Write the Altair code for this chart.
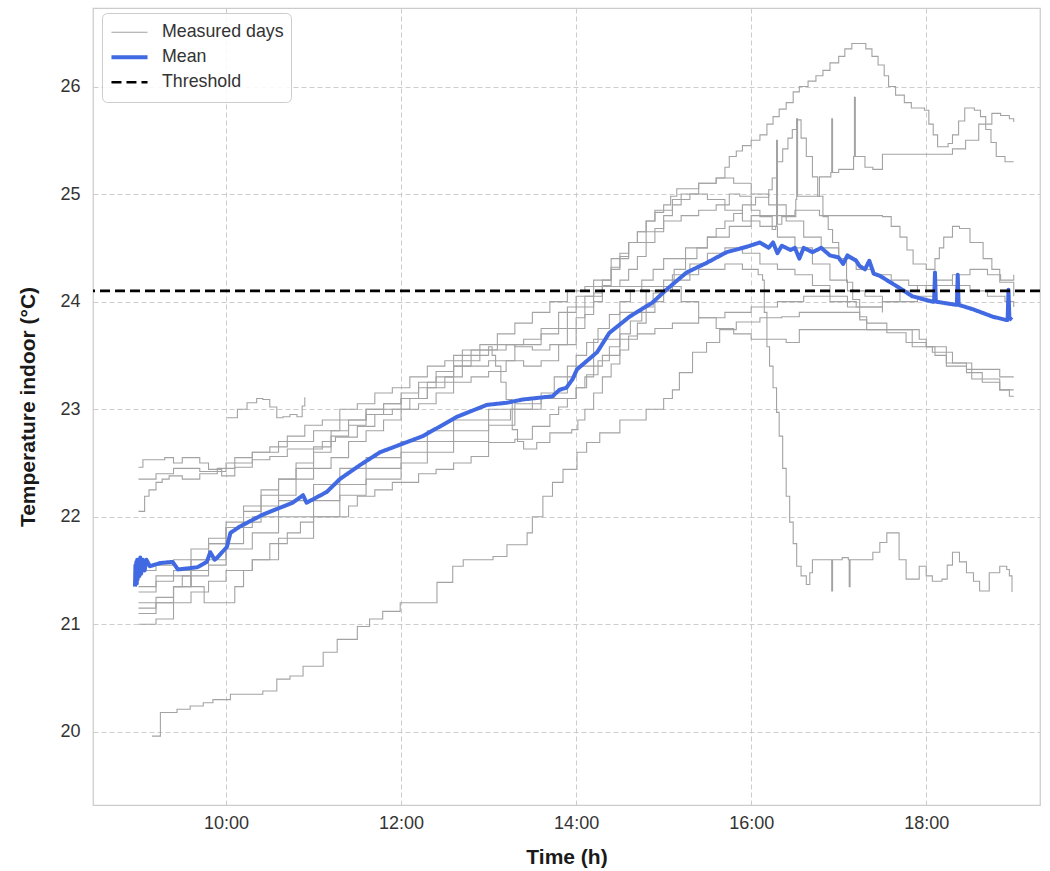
import altair as alt
import pandas as pd

# ---------------- data (hour of day, indoor temperature in °C) ----------------
SERIES = ["Measured days", "Mean", "Threshold"]
SERIES_COLORS = ["#a3a3a3", "#4169e1", "#000000"]
SERIES_WIDTHS = [1.1, 4.0, 2.6]
THRESHOLD = 24.1
X_TICKS = [10, 12, 14, 16, 18]
Y_TICKS = [20, 21, 22, 23, 24, 25, 26]

day01 = [(9.0,21.1),(9.2,21.2),(9.4,21.35),(9.6,21.5),(9.8,21.6),(10.0,21.75),(10.2,21.95),(10.4,22.1),
         (10.6,22.2),(10.8,22.35),(11.0,22.45),(11.2,22.55),(11.4,22.7),(11.6,22.8),(11.8,22.9),(12.0,23.0),
         (12.2,23.05),(12.4,23.15),(12.6,23.25),(12.8,23.3),(13.0,23.35),(13.2,23.45),(13.4,23.4),(13.6,23.45),
         (13.8,23.6),(14.0,23.75),(14.1,23.88),(14.2,24.0),(14.3,24.15),(14.4,24.3),(14.5,24.42),(14.6,24.55),
         (14.7,24.65),(14.8,24.75),(14.9,24.83),(15.0,24.9),(15.08,24.98),(15.15,25.05),(15.4,25.1),(15.6,25.15),
         (15.7,25.25),(15.75,25.35),(15.83,25.4),(15.9,25.45),(16.0,25.5),(16.1,25.55),(16.18,25.65),(16.25,25.72),
         (16.32,25.79),(16.4,25.85),(16.48,25.95),(16.55,26.0),(16.65,26.05),(16.74,26.1),(16.82,26.15),
         (16.9,26.22),(17.0,26.28),(17.07,26.35),(17.15,26.4),(17.31,26.35),(17.38,26.28),(17.45,26.2),
         (17.52,26.1),(17.57,26.0),(17.65,25.92),(17.75,25.85),(17.83,25.8),(17.98,25.78),(18.03,25.65),
         (18.08,25.55),(18.13,25.44),(18.25,25.47),(18.3,25.55),(18.37,25.68),(18.44,25.8),(18.55,25.78),
         (18.62,25.72),(18.68,25.6),(18.74,25.48),(18.8,25.35),(18.9,25.3),(19.0,25.3)]

day02 = [(9.0,21.35),(9.2,21.45),(9.4,21.5),(9.6,21.6),(9.8,21.75),(10.0,21.95),(10.2,22.1),(10.4,22.25),
         (10.6,22.35),(10.8,22.5),(11.0,22.65),(11.2,22.8),(11.4,22.9),(11.6,23.0),(11.8,23.05),(12.0,23.1),
         (12.2,23.2),(12.4,23.3),(12.6,23.4),(12.8,23.5),(13.0,23.55),(13.2,23.6),(13.4,23.65),(13.6,23.7),
         (13.8,23.9),(14.0,24.05),(14.2,24.2),(14.4,24.4),(14.6,24.55),(14.8,24.65),(15.0,24.75),(15.2,24.8),
         (15.4,24.85),(15.6,24.9),(15.75,25.0),(15.87,24.98),(16.0,24.85),(16.1,24.79),(16.24,24.67),(16.28,24.7),
         (16.29,25.5),(16.30,24.72),(16.35,24.79),(16.51,24.95),(16.52,25.7),(16.53,24.98),(16.78,25.16),
         (16.91,25.2),(16.92,25.7),(16.93,25.2),(17.0,25.23),(17.17,25.35),(17.18,25.9),(17.19,25.35),(17.3,25.25),
         (17.39,25.23),(17.5,25.37),(17.8,25.37),(18.15,25.37),(18.3,25.42),(18.45,25.5),(18.6,25.65),(18.75,25.75),
         (18.85,25.73),(18.95,25.7),(19.0,25.67)]

day03 = [(9.0,21.5),(9.2,21.55),(9.4,21.6),(9.6,21.7),(9.8,21.8),(10.0,21.9),(10.3,22.0),(10.6,22.15),
         (11.0,22.3),(11.3,22.45),(11.6,22.55),(12.0,22.7),(12.3,22.8),(12.6,22.9),(13.0,23.0),(13.3,23.05),
         (13.6,23.1),(14.0,23.2),(14.12,23.32),(14.25,23.45),(14.38,23.58),(14.5,23.7),(14.62,23.82),(14.75,23.95),
         (14.88,24.08),(15.0,24.2),(15.12,24.3),(15.25,24.4),(15.38,24.5),(15.5,24.6),(15.6,24.68),(15.7,24.75),
         (15.8,24.82),(15.9,24.9),(16.05,24.97),(16.2,25.04),(16.24,25.15),(16.3,25.3),(16.36,25.42),(16.42,25.52),
         (16.47,25.6),(16.52,25.69),(16.57,25.52),(16.63,25.35),(16.7,25.16),(16.76,24.98),(16.82,24.79),
         (16.88,24.67),(16.93,24.55),(17.0,24.38),(17.09,24.18),(17.16,24.02),(17.24,23.86),(17.32,23.8),
         (17.55,23.71),(17.77,23.62),(18.0,23.58),(18.23,23.43),(18.46,23.34),(18.64,23.25),(18.84,23.18),
         (18.95,23.12),(19.0,23.12)]

day04 = [(9.0,21.2),(9.2,21.25),(9.4,21.35),(9.6,21.45),(9.8,21.55),(10.0,21.7),(10.3,21.85),(10.6,22.0),
         (11.0,22.15),(11.3,22.3),(11.6,22.45),(12.0,22.6),(12.3,22.7),(12.6,22.8),(13.0,22.9),(13.25,23.0),
         (13.5,23.1),(13.75,23.3),(14.0,23.5),(14.12,23.62),(14.25,23.75),(14.38,23.88),(14.5,24.0),(14.62,24.1),
         (14.75,24.2),(14.88,24.3),(15.0,24.4),(15.25,24.5),(15.5,24.6),(15.75,24.7),(16.0,24.8),(16.5,24.85),
         (16.78,24.8),(17.5,24.79),(17.6,24.7),(17.7,24.6),(17.78,24.48),(17.85,24.35),(18.0,24.3),(18.1,24.4),
         (18.15,24.5),(18.2,24.6),(18.3,24.7),(18.38,24.68),(18.5,24.55),(18.65,24.4),(18.75,24.3),(18.84,24.18),
         (19.0,24.05)]

day05 = [(9.0,22.35),(9.2,22.4),(9.4,22.45),(9.7,22.42),(10.0,22.5),(10.3,22.6),(10.6,22.7),(11.0,22.8),
         (11.3,22.9),(11.6,23.0),(12.0,23.1),(12.3,23.25),(12.6,23.4),(13.0,23.45),(13.3,23.6),(13.6,23.75),
         (13.9,23.95),(14.1,24.05),(14.3,24.14),(15.0,24.14),(15.2,24.0),(15.4,23.85),(15.6,23.75),(15.8,23.7),
         (16.0,23.65),(16.4,23.62),(16.55,23.74),(17.79,23.74),(17.92,23.65),(18.0,23.58),(18.1,23.5),
         (18.23,23.4),(18.46,23.37),(18.72,23.37),(18.84,23.3),(19.0,23.3)]

day06 = [(9.0,21.0),(9.2,21.05),(9.4,21.2),(9.6,21.3),(9.8,21.4),(10.0,21.5),(10.3,21.6),(10.6,21.8),
         (11.0,22.0),(11.3,22.2),(11.6,22.35),(12.0,22.5),(12.3,22.6),(12.6,22.7),(13.0,22.85),(13.3,23.0),
         (13.6,23.15),(13.9,23.4),(14.2,23.65),(14.5,23.9),(14.8,24.1),(15.1,24.25),(15.4,24.3),(15.7,24.35),
         (15.9,24.3),(16.08,24.25),(16.13,24.2),(16.15,23.9),(16.18,23.58),(16.21,23.4),(16.25,23.2),
         (16.29,22.97),(16.32,22.75),(16.36,22.45),(16.40,22.19),(16.44,21.95),(16.48,21.75),(16.52,21.54),
         (16.57,21.45),(16.63,21.37),(16.67,21.48),(16.70,21.6),(16.91,21.6),(16.92,21.31),(16.93,21.6),
         (17.04,21.62),(17.11,21.6),(17.12,21.35),(17.13,21.6),(17.24,21.6),(17.39,21.67),(17.47,21.76),
         (17.55,21.85),(17.60,21.85),(17.69,21.6),(17.77,21.42),(17.92,21.54),(18.0,21.45),(18.07,21.4),
         (18.18,21.42),(18.24,21.55),(18.30,21.67),(18.38,21.58),(18.46,21.48),(18.54,21.4),(18.61,21.31),
         (18.72,21.48),(18.84,21.54),(18.92,21.51),(18.95,21.45),(18.98,21.3)]

day07 = [(9.155,19.96),(9.25,20.18),(9.44,20.21),(9.59,20.24),(9.74,20.27),(9.85,20.3),(9.97,20.3),
         (10.05,20.35),(10.35,20.35),(10.42,20.38),(10.58,20.49),(10.73,20.52),(10.88,20.61),(11.11,20.74),
         (11.27,20.86),(11.5,20.98),(11.64,21.05),(11.79,21.12),(11.99,21.2),(12.29,21.2),(12.41,21.39),
         (12.59,21.54),(12.71,21.6),(13.05,21.63),(13.21,21.74),(13.44,21.85),(13.5,22.0),(13.62,22.19),
         (13.73,22.32),(13.85,22.44),(13.96,22.44),(14.01,22.6),(14.12,22.69),(14.27,22.78),(14.5,22.9),
         (14.8,23.0),(15.0,23.1),(15.1,23.18),(15.18,23.34),(15.33,23.53),(15.49,23.62),(15.64,23.74),
         (15.83,23.81),(16.1,23.85),(16.35,23.86),(16.55,23.9),(17.1,23.9),(17.24,23.83),(17.32,23.74),
         (17.69,23.74),(17.84,23.58),(18.07,23.53),(18.3,23.43),(18.52,23.28),(18.84,23.18),(19.0,23.18)]

day08 = [(10.01,22.92),(10.13,23.0),(10.24,23.06),(10.35,23.1),(10.42,23.09),(10.5,23.02),(10.58,22.92),
         (10.65,22.93),(10.73,22.95),(10.81,22.93),(10.87,23.03),(10.9,23.11)]

day09 = [(9.0,22.46),(9.05,22.53),(9.3,22.55),(9.4,22.5),(9.5,22.55),(9.7,22.5),(9.8,22.44),(9.95,22.38),
         (10.05,22.38),(10.1,22.46),(10.3,22.53),(10.5,22.56),(10.7,22.63),(10.95,22.63),(11.1,22.7),
         (11.25,22.74),(11.5,22.84),(11.7,22.95),(11.9,23.0),(12.1,23.1),(12.3,23.2),(12.5,23.3),(12.7,23.45),
         (12.9,23.55),(13.1,23.6),(13.3,23.58),(13.5,23.55),(13.7,23.6),(13.9,23.75),(14.0,23.85),(14.1,23.95),
         (14.2,24.08),(14.3,24.2),(14.4,24.32),(14.5,24.45),(14.6,24.55),(14.7,24.65),(14.8,24.75),(14.9,24.85),
         (15.1,24.95),(15.3,25.0),(15.5,24.95),(15.7,24.85),(15.9,24.75),(16.1,24.7),(16.3,24.6),(16.5,24.5),
         (16.7,24.35),(16.9,24.2),(17.1,24.1),(17.3,24.05),(17.5,24.0),(17.7,24.0),(17.9,24.05),(18.1,24.15),
         (18.3,24.25),(18.5,24.3),(18.7,24.25),(18.85,24.2),(19.0,24.25)]

day10 = [(9.0,21.3),(9.2,21.4),(9.4,21.45),(9.6,21.6),(9.8,21.75),(10.0,21.9),(10.2,22.05),(10.4,22.2),
         (10.6,22.35),(10.8,22.45),(11.0,22.6),(11.2,22.75),(11.4,22.85),(11.6,22.95),(11.8,23.05),(12.0,23.15),
         (12.2,23.25),(12.4,23.35),(12.6,23.5),(12.8,23.55),(13.0,23.58),(13.04,23.5),(13.08,23.4),(13.14,23.25),
         (13.2,23.09),(13.27,22.81),(13.33,22.7),(13.4,22.63),(13.55,22.69),(13.7,22.78),(13.95,22.81),
         (14.02,22.9),(14.1,23.0),(14.2,23.15),(14.3,23.3),(14.4,23.42),(14.5,23.55),(14.6,23.68),(14.7,23.8),
         (14.8,23.9),(14.9,24.0),(15.0,24.1),(15.1,24.2),(15.3,24.35),(15.5,24.45),(15.7,24.5),(15.9,24.45),
         (16.1,24.35),(16.3,24.3),(16.5,24.25),(16.7,24.15),(16.9,24.05),(17.1,23.95),(17.3,23.95),(17.5,24.0),
         (17.7,24.1),(17.9,24.15),(18.1,24.2),(18.3,24.15),(18.5,24.1),(18.7,24.05),(18.9,24.0),(19.0,23.95)]

day11 = [(9.0,22.05),(9.07,22.19),(9.12,22.25),(9.2,22.32),(9.27,22.35),(9.35,22.38),(9.5,22.35),(9.7,22.4),
         (9.9,22.45),(10.1,22.55),(10.3,22.6),(10.5,22.65),(10.7,22.75),(10.9,22.85),(11.1,22.9),(11.3,23.0),
         (11.5,23.05),(11.7,23.15),(11.9,23.2),(12.1,23.3),(12.3,23.4),(12.5,23.45),(12.7,23.55),(12.9,23.6),
         (13.1,23.7),(13.3,23.8),(13.5,23.9),(13.7,24.0),(13.9,24.1),(14.1,24.14),(14.4,24.14),(14.5,24.2),
         (14.6,24.3),(14.7,24.42),(14.8,24.55),(14.9,24.68),(15.0,24.8),(15.1,24.9),(15.2,25.0),(15.4,25.1),
         (15.6,25.15),(15.8,25.1),(16.0,25.0),(16.2,24.9),(16.4,24.75),(16.6,24.6),(16.8,24.5),(17.0,24.4),
         (17.2,24.3),(17.4,24.25),(17.6,24.2),(17.8,24.15),(18.0,24.1),(18.1,24.05)]

day12 = [(9.0,21.15),(9.2,21.2),(9.4,21.35),(9.5,21.45),(9.6,21.35),(9.75,21.2),(10.0,21.2),(10.1,21.35),
         (10.2,21.5),(10.3,21.6),(10.5,21.75),(10.7,21.85),(10.85,21.95),(11.0,22.0),(11.3,22.0),(11.4,22.1),
         (11.5,22.19),(11.7,22.25),(11.9,22.32),(12.2,22.4),(12.4,22.44),(12.6,22.5),(12.8,22.56),(13.0,22.69),
         (13.3,22.72),(13.5,22.84),(13.7,22.95),(13.8,23.02),(13.9,23.1),(14.0,23.2),(14.1,23.3),(14.2,23.4),
         (14.3,23.5),(14.5,23.65),(14.7,23.7),(14.9,23.75),(15.1,23.8),(15.4,23.85),(15.7,23.9),(16.0,23.95),
         (16.3,24.0),(16.6,24.05),(16.9,24.0),(17.2,23.95),(17.5,23.9)]

mean_curve = [(8.96,21.35),(8.965,21.55),(8.97,21.4),(8.975,21.58),(8.98,21.38),(8.985,21.6),(8.99,21.42),
              (9.0,21.6),(9.01,21.45),(9.02,21.62),(9.03,21.47),(9.05,21.6),(9.07,21.5),(9.09,21.6),(9.13,21.54),
              (9.25,21.57),(9.39,21.58),(9.45,21.51),(9.67,21.53),(9.78,21.58),(9.82,21.67),(9.87,21.6),(9.9,21.62),
              (10.01,21.72),(10.05,21.85),(10.16,21.91),(10.42,22.02),(10.76,22.13),(10.88,22.2),(10.92,22.13),
              (11.15,22.23),(11.3,22.35),(11.53,22.48),(11.76,22.6),(12.25,22.75),(12.64,22.93),(12.98,23.04),
              (13.21,23.06),(13.39,23.09),(13.73,23.12),(13.81,23.18),(13.89,23.2),(13.96,23.28),(14.01,23.37),
              (14.24,23.53),(14.38,23.71),(14.61,23.86),(14.87,23.99),(15.03,24.11),(15.26,24.27),(15.49,24.36),
              (15.72,24.46),(15.95,24.51),(16.1,24.55),(16.2,24.5),(16.25,24.55),(16.3,24.45),(16.35,24.52),
              (16.45,24.48),(16.5,24.5),(16.55,24.4),(16.6,24.5),(16.7,24.46),(16.8,24.5),(16.9,24.43),
              (17.0,24.41),(17.05,24.35),(17.1,24.43),(17.2,24.38),(17.24,24.33),(17.3,24.3),(17.35,24.38),
              (17.4,24.26),(17.47,24.24),(17.69,24.13),(17.84,24.05),(18.07,24.0),(18.09,24.0),(18.1,24.27),
              (18.11,24.0),(18.34,23.97),(18.35,23.97),(18.36,24.25),(18.37,23.97),(18.53,23.93),(18.76,23.86),
              (18.91,23.83),(18.93,23.83),(18.94,24.11),(18.95,23.85),(18.98,23.83)]

days = [day01, day02, day03, day04, day05, day06, day07, day08, day09, day10, day11, day12]

# ---------------- tables ----------------
rows = []
for i, pts in enumerate(days, start=1):
    for t, v in pts:
        rows.append({"t": t, "v": v, "day": f"day{i:02d}", "series": "Measured days"})
gray_df = pd.DataFrame(rows)
mean_df = pd.DataFrame(mean_curve, columns=["t", "v"])
mean_df["series"] = "Mean"
thr_df = pd.DataFrame({"v": [THRESHOLD], "series": ["Threshold"]})

FONT = "Liberation Sans"

x_enc = alt.X("t:Q",
              scale=alt.Scale(domain=[8.48, 19.3], nice=False, zero=False),
              axis=alt.Axis(values=X_TICKS, labelExpr="datum.value + ':00'", title="Time (h)"))
y_enc = alt.Y("v:Q",
              scale=alt.Scale(domain=[19.32, 26.73], nice=False, zero=False),
              axis=alt.Axis(values=Y_TICKS, title="Temperature indoor (°C)"))
color_enc = alt.Color("series:N",
                      scale=alt.Scale(domain=SERIES, range=SERIES_COLORS),
                      legend=alt.Legend(title=None))
dash_enc = alt.StrokeDash("series:N",
                          scale=alt.Scale(domain=SERIES, range=[[1, 0], [1, 0], [10, 5]]),
                          legend=alt.Legend(title=None))
width_enc = alt.StrokeWidth("series:N",
                            scale=alt.Scale(type="ordinal", domain=SERIES, range=SERIES_WIDTHS),
                            legend=alt.Legend(title=None))

gray = alt.Chart(gray_df).mark_line(interpolate="step-after").encode(
    x=x_enc, y=y_enc, detail="day:N", color=color_enc, strokeDash=dash_enc, strokeWidth=width_enc
)
mean = alt.Chart(mean_df).mark_line(strokeJoin="round").encode(
    x=x_enc, y=y_enc, color=color_enc, strokeDash=dash_enc, strokeWidth=width_enc
)
rule = alt.Chart(thr_df).mark_rule().encode(
    y=y_enc, color=color_enc, strokeDash=dash_enc, strokeWidth=width_enc
)

chart = alt.layer(gray, mean, rule).properties(
    width=947, height=797,
    autosize=alt.AutoSizeParams(type="none"),
    padding={"left": 93, "top": 8, "right": 10, "bottom": 66},
    background="white",
).configure_view(
    stroke="#cccccc", strokeWidth=1.25
).configure_axis(
    domain=False, ticks=False,
    grid=True, gridColor="#cccccc", gridDash=[5, 3], gridWidth=1,
    labelFont=FONT, labelFontSize=18, labelColor="#333333",
    titleFont=FONT, titleFontSize=21, titleFontWeight="bold", titleColor="#1a1a1a",
).configure_axisX(
    labelPadding=9, titlePadding=14
).configure_axisY(
    labelPadding=13, titlePadding=21
).configure_legend(
    orient="none", legendX=9, legendY=5,
    fillColor="rgba(255,255,255,0.85)", strokeColor="#cccccc", cornerRadius=5,
    padding=7, labelFont=FONT, labelFontSize=17.8, labelColor="#333333",
    symbolType="stroke", symbolSize=1300, labelOffset=12, rowPadding=0, clipHeight=24.5,
)

chart.save("out.html", embed_options={"renderer": "svg", "actions": False})
